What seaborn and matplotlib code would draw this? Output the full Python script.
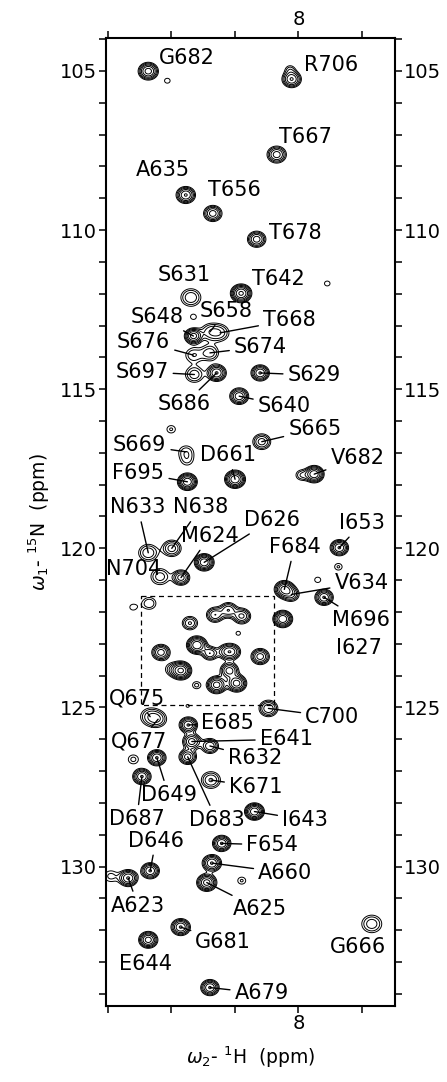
import numpy as np
import pandas as pd
import matplotlib
matplotlib.use("Agg")
import matplotlib.pyplot as plt
from matplotlib.ticker import MultipleLocator
from matplotlib.patches import Rectangle
import seaborn as sns

# ---------------- data ----------------
# peak centres (1H ppm, 15N ppm), relative intensity, relative linewidth
peak_name = ["G682", "", "R706", "", "T667", "A635", "T656", "T678", "S631", "T642",
             "", "", "S658", "T668", "S648", "S676", "S674", "S697", "S686", "S629",
             "S640", "", "S669", "", "S665", "D661", "V682", "", "F695", "N633",
             "N638", "M624", "N704", "D626", "I653", "F684", "V634", "", "", "M696",
             "I627", "", "", "", "", "", "", "", "", "",
             "", "", "", "", "", "", "", "", "", "",
             "", "C700", "Q675", "Q677", "E685", "E641", "R632", "D683", "D649", "",
             "D687", "K671", "I643", "F654", "D646", "A623", "", "A660", "A625", "",
             "G681", "E644", "G666", "A679"]
peak_h = [8.472, 8.412, 8.021, 8.026, 8.068, 8.354, 8.269, 8.131, 8.338, 8.180,
          7.909, 8.330, 8.278, 8.246, 8.330, 8.330, 8.278, 8.327, 8.257, 8.120,
          8.186, 8.400, 8.353, 8.350, 8.115, 8.199, 7.950, 7.990, 8.349, 8.472,
          8.398, 8.369, 8.435, 8.296, 7.871, 8.044, 8.022, 7.939, 7.874, 7.919,
          8.049, 8.469, 8.520, 8.262, 8.220, 8.178, 8.189, 8.319, 8.341, 8.432,
          8.369, 8.400, 8.320, 8.278, 8.209, 8.228, 8.120, 8.217, 8.257, 8.194,
          8.348, 8.094, 8.466, 8.441, 8.346, 8.335, 8.278, 8.348, 8.445, 8.519,
          8.492, 8.275, 8.138, 8.241, 8.466, 8.535, 8.590, 8.272, 8.288, 8.178,
          8.370, 8.472, 7.769, 8.278]
peak_n = [105.01, 105.31, 105.26, 104.95, 107.63, 108.90, 109.48, 110.29, 112.12, 111.99,
          111.68, 112.73, 113.20, 113.23, 113.33, 113.93, 113.86, 114.54, 114.49, 114.49,
          115.22, 116.26, 116.97, 117.25, 116.65, 117.83, 117.67, 117.70, 117.91, 120.14,
          120.00, 120.92, 120.89, 120.44, 119.98, 121.29, 121.45, 120.99, 120.58, 121.54,
          122.22, 121.73, 121.85, 122.09, 121.94, 122.13, 122.67, 123.04, 122.35, 123.27,
          123.84, 123.80, 124.30, 123.30, 123.25, 123.25, 123.40, 123.84, 124.29, 124.24,
          124.95, 125.03, 125.29, 125.37, 125.55, 126.07, 126.21, 126.55, 126.58, 126.63,
          127.17, 127.28, 128.27, 129.27, 130.13, 130.36, 130.30, 129.89, 130.50, 130.44,
          131.90, 132.30, 131.80, 133.80]
peak_amp = [7.0, 1.25, 6.0, 1.5, 5.0, 6.0, 5.0, 5.0, 2.8, 9.0,
            1.25, 1.25, 2.3, 2.3, 7.0, 2.0, 2.6, 2.6, 6.0, 6.0,
            5.5, 1.5, 1.8, 1.3, 3.5, 8.0, 8.0, 2.0, 8.0, 2.8,
            3.5, 5.0, 2.5, 8.0, 6.0, 7.0, 3.0, 1.3, 1.5, 6.0,
            8.0, 2.0, 1.2, 4.0, 4.0, 4.5, 1.2, 8.0, 3.0, 5.0,
            9.0, 1.5, 1.6, 4.0, 4.0, 3.0, 5.0, 5.0, 7.0, 7.0,
            1.15, 4.0, 2.5, 2.2, 6.0, 5.0, 4.0, 5.0, 6.0, 1.6,
            6.0, 3.0, 8.0, 6.0, 6.0, 6.0, 1.6, 6.0, 7.0, 1.5,
            6.0, 7.0, 2.6, 6.0]
peak_width = [1.0, 0.8, 1.0, 0.8, 1.05, 1.0, 1.0, 1.0, 1.35, 1.0,
              0.8, 0.8, 1.3, 1.3, 0.9, 1.25, 1.2, 1.25, 1.0, 0.95,
              1.0, 0.9, 1.2, 1.1, 1.1, 1.0, 0.95, 0.9, 0.95, 1.3,
              1.15, 0.95, 1.3, 0.95, 0.95, 1.0, 1.0, 0.8, 0.8, 0.95,
              0.95, 1.1, 1.0, 1.0, 1.0, 1.0, 0.7, 1.0, 1.0, 1.0,
              1.0, 1.1, 0.8, 0.9, 1.0, 1.0, 1.0, 1.0, 1.0, 1.0,
              0.6, 1.1, 1.35, 1.2, 0.95, 1.0, 1.0, 0.95, 0.95, 1.0,
              0.95, 1.25, 0.95, 0.95, 0.95, 1.0, 1.2, 1.0, 1.0, 0.85,
              1.0, 0.95, 1.4, 0.95]

# assignment labels: text position (1H, 15N) and whether a leader line is drawn
label_text = ["G682", "R706", "T667", "A635", "T656", "T678", "S631", "T642", "S658", "T668",
              "S648", "S676", "S674", "S697", "S686", "S629", "S640", "S669", "S665", "D661",
              "V682", "F695", "N633", "N638", "M624", "N704", "D626", "I653", "F684", "V634",
              "M696", "I627", "C700", "Q675", "Q677", "E685", "E641", "R632", "D683", "D649",
              "D687", "K671", "I643", "F654", "D646", "A623", "A660", "A625", "G681", "E644",
              "G666", "A679"]
label_h = [8.352, 7.896, 7.977, 8.425, 8.201, 8.009, 8.359, 8.064, 8.227, 8.028,
           8.444, 8.487, 8.119, 8.492, 8.358, 7.950, 8.044, 8.499, 7.948, 8.220,
           7.814, 8.503, 8.505, 8.307, 8.278, 8.517, 8.084, 7.799, 8.012, 7.801,
           7.804, 7.808, 7.893, 8.507, 8.500, 8.224, 8.038, 8.136, 8.257, 8.408,
           8.508, 8.134, 7.979, 8.082, 8.448, 8.504, 8.041, 8.122, 8.236, 8.480,
           7.813, 8.115]
label_n = [104.60, 104.82, 107.07, 108.12, 108.75, 110.09, 111.42, 111.54, 112.55, 112.83,
           112.73, 113.51, 113.67, 114.45, 115.47, 114.56, 115.52, 116.76, 116.26, 117.07,
           117.17, 117.63, 118.71, 118.71, 119.61, 120.66, 119.11, 119.20, 119.95, 121.08,
           122.25, 123.13, 125.29, 124.73, 126.07, 125.50, 126.00, 126.58, 128.53, 127.75,
           128.51, 127.49, 128.53, 129.32, 129.18, 131.23, 130.19, 131.34, 132.36, 133.06,
           132.51, 133.98]
label_line = [False, False, False, False, False, False, False, False, True, True,
              True, True, True, True, True, True, True, True, True, True,
              True, True, True, True, True, False, True, True, True, True,
              True, False, True, True, True, True, True, True, True, True,
              True, True, True, True, True, True, True, True, True, False,
              False, True]

zoom_box = [8.496, 8.077, 121.49, 124.92]   # H_left, H_right, N_top, N_bottom
x_limits = [8.605, 7.696]
y_limits = [134.37, 103.96]

# ---------------- style ----------------
sns.set_theme(style="ticks")
plt.rcParams["font.family"] = ["DejaVu Sans"]
plt.rcParams["mathtext.fontset"] = "dejavusans"

fig = plt.figure(figsize=(4.47, 10.82), dpi=100)
ax = fig.add_axes([0.2371, 0.0705, 0.6465, 0.8946])

peaks = pd.DataFrame({"name": peak_name, "h": peak_h, "n": peak_n,
                      "amp": peak_amp, "w": peak_width})

# spectrum on a grid (sum of 2D lineshapes)
h_axis = np.linspace(8.72, 7.60, 900)
n_axis = np.linspace(103.0, 135.5, 2000)
sig_h = 0.0162 * peaks["w"].to_numpy()
sig_n = 0.142 * peaks["w"].to_numpy()
gh = np.exp(-0.5 * ((h_axis[None, :] - peaks["h"].to_numpy()[:, None]) / sig_h[:, None]) ** 2)
gn = np.exp(-0.5 * ((n_axis[None, :] - peaks["n"].to_numpy()[:, None]) / sig_n[:, None]) ** 2)
spec = gn.T @ (peaks["amp"].to_numpy()[:, None] * gh)

levels = 1.0 * 1.42 ** np.arange(12)
ax.contour(h_axis, n_axis, spec, levels=levels, colors="black", linewidths=0.7)

# dashed region
ax.add_patch(Rectangle((zoom_box[0], zoom_box[2]), zoom_box[1] - zoom_box[0],
                       zoom_box[3] - zoom_box[2], fill=False, ls=(0, (4, 3)),
                       lw=0.9, ec="black", zorder=3))

# labels
lookup = {nm: (h, n) for nm, h, n in zip(peak_name, peak_h, peak_n) if nm}
for txt, lh, ln, line in zip(label_text, label_h, label_n, label_line):
    ph, pn = lookup[txt]
    if line:
        ax.annotate(txt, xy=(ph, pn), xytext=(lh, ln), ha="center", va="center",
                    fontsize=15, color="black", zorder=5,
                    arrowprops=dict(arrowstyle="-", color="black", lw=1.0,
                                    shrinkA=1, shrinkB=0))
    else:
        ax.text(lh, ln, txt, ha="center", va="center", fontsize=15,
                color="black", zorder=5)

ax.set_xlim(*x_limits)
ax.set_ylim(*y_limits)
ax.xaxis.set_major_locator(MultipleLocator(1))
ax.xaxis.set_minor_locator(MultipleLocator(0.2))
ax.yaxis.set_major_locator(MultipleLocator(5))
ax.yaxis.set_minor_locator(MultipleLocator(1))
ax.tick_params(which="both", direction="out", length=5, width=1.1, color="black",
               top=True, right=True, labeltop=True, labelright=True,
               labelsize=14, labelcolor="black", pad=1.2)
for sp in ax.spines.values():
    sp.set_color("black")
    sp.set_linewidth(1.5)
    sp.set_visible(True)

ax.set_xlabel(r"$\omega_2$- $^{1}$H  (ppm)", fontsize=13.5, labelpad=8, color="black")
ax.set_ylabel(r"$\omega_1$- $^{15}$N  (ppm)", fontsize=13.5, labelpad=6, color="black")

fig.savefig("out.png", dpi=100)
